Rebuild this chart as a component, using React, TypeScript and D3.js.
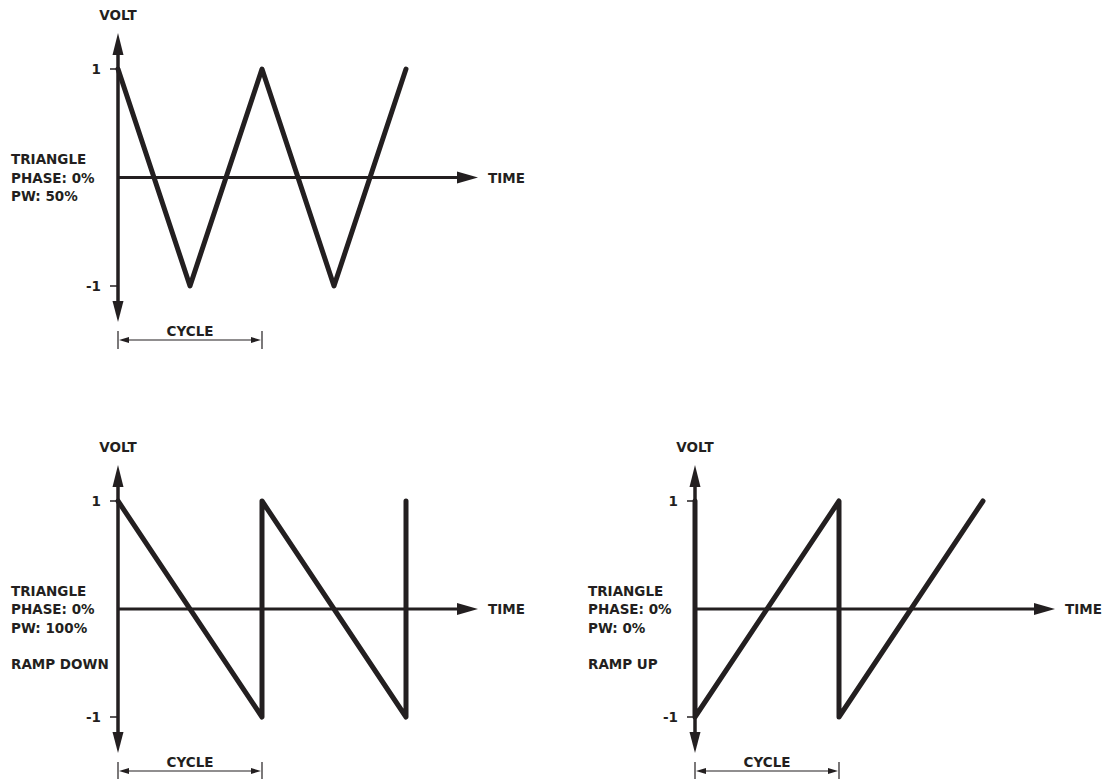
import * as d3 from "d3";

// waveform breakpoints: time in cycles, value in volts
const triangleTime = [0, 0.5, 1, 1.5, 2];
const triangleVolt = [1, -1, 1, -1, 1];
const rampDownTime = [0, 1, 1, 2, 2];
const rampDownVolt = [1, -1, 1, -1, 1];
const rampUpTime = [0, 0, 1, 1, 2];
const rampUpVolt = [1, -1, 1, -1, 1];

const yTicks = [1, -1];
const triangleLabels = ["TRIANGLE", "PHASE: 0%", "PW: 50%"];
const rampDownLabels = ["TRIANGLE", "PHASE: 0%", "PW: 100%"];
const rampUpLabels = ["TRIANGLE", "PHASE: 0%", "PW: 0%"];

const INK = "#231f20";
const FONT = "'DejaVu Sans', sans-serif";

type PanelProps = {
  ox: number;
  top: number;
  bottom: number;
  time: number[];
  volt: number[];
  labels: string[];
  extra?: string;
};

function Panel({ ox, top, bottom, time, volt, labels, extra }: PanelProps) {
  const x = d3.scaleLinear().domain([0, 1]).range([ox, ox + 144]);
  const y = d3.scaleLinear().domain([-1, 1]).range([bottom, top]);
  const y0 = y(0);

  const pts: [number, number][] = time.map((t, i) => [t, volt[i]]);
  const line = d3
    .line<[number, number]>()
    .x((d) => x(d[0]))
    .y((d) => y(d[1]));

  const axTip = x(2.5);
  const axBase = axTip - 21;
  const upTip = y(1) - 36;
  const upBase = y(1) - 14;
  const dnTip = y(-1) + 36;
  const dnBase = y(-1) + 15;

  const cy = y(-1) + 54;
  const c0 = x(0);
  const c1 = x(1);

  const txt = { fontFamily: FONT, fontWeight: 700, fontSize: 13.5, fill: INK } as const;

  return (
    <g>
      <text x={ox} y={top - 54} textAnchor="middle" dominantBaseline="central" style={txt}>
        VOLT
      </text>

      {/* vertical axis */}
      <line x1={ox} x2={ox} y1={upBase} y2={dnBase} stroke={INK} strokeWidth={3.5} />
      <path d={`M${ox},${upTip} L${ox + 5.5},${upBase} L${ox - 5.5},${upBase} Z`} fill={INK} />
      <path d={`M${ox},${dnTip} L${ox + 5.5},${dnBase} L${ox - 5.5},${dnBase} Z`} fill={INK} />
      {yTicks.map((v) => (
        <g key={v}>
          <line x1={ox - 8} x2={ox} y1={y(v)} y2={y(v)} stroke={INK} strokeWidth={1.5} />
          <text x={ox - 17} y={y(v)} textAnchor="end" dominantBaseline="central" style={txt}>
            {v}
          </text>
        </g>
      ))}

      {/* time axis */}
      <line x1={ox} x2={axBase + 2} y1={y0} y2={y0} stroke={INK} strokeWidth={3} />
      <path d={`M${axTip},${y0} L${axBase},${y0 - 6} L${axBase},${y0 + 6} Z`} fill={INK} />
      <text x={axTip + 10} y={y0} dominantBaseline="central" style={txt}>
        TIME
      </text>

      {/* waveform */}
      <path
        d={line(pts) || ""}
        fill="none"
        stroke={INK}
        strokeWidth={5}
        strokeLinejoin="round"
        strokeLinecap="round"
      />

      {/* labels */}
      {labels.map((l, i) => (
        <text key={l} x={ox - 107} y={y0 + (i - 1) * 18.5} dominantBaseline="central" style={txt}>
          {l}
        </text>
      ))}
      {extra && (
        <text x={ox - 107} y={y0 + 55} dominantBaseline="central" style={txt}>
          {extra}
        </text>
      )}

      {/* cycle marker */}
      <text x={(c0 + c1) / 2} y={cy - 9} textAnchor="middle" dominantBaseline="central" style={txt}>
        CYCLE
      </text>
      <line x1={c0} x2={c0} y1={cy - 9} y2={cy + 9} stroke={INK} strokeWidth={1.2} />
      <line x1={c1} x2={c1} y1={cy - 9} y2={cy + 9} stroke={INK} strokeWidth={1.2} />
      <line x1={c0 + 8} x2={c1 - 8} y1={cy} y2={cy} stroke={INK} strokeWidth={1.2} />
      <path d={`M${c0 + 1},${cy} L${c0 + 11},${cy - 3} L${c0 + 11},${cy + 3} Z`} fill={INK} />
      <path d={`M${c1 - 1},${cy} L${c1 - 11},${cy - 3} L${c1 - 11},${cy + 3} Z`} fill={INK} />
    </g>
  );
}

export default function App() {
  return (
    <svg
      width={1104}
      height={779}
      style={{ position: "absolute", left: 0, top: 0, background: "#fff" }}
    >
      <Panel ox={118} top={69} bottom={286} time={triangleTime} volt={triangleVolt} labels={triangleLabels} />
      <Panel
        ox={118}
        top={501}
        bottom={717}
        time={rampDownTime}
        volt={rampDownVolt}
        labels={rampDownLabels}
        extra="RAMP DOWN"
      />
      <Panel
        ox={695}
        top={501}
        bottom={717}
        time={rampUpTime}
        volt={rampUpVolt}
        labels={rampUpLabels}
        extra="RAMP UP"
      />
    </svg>
  );
}
